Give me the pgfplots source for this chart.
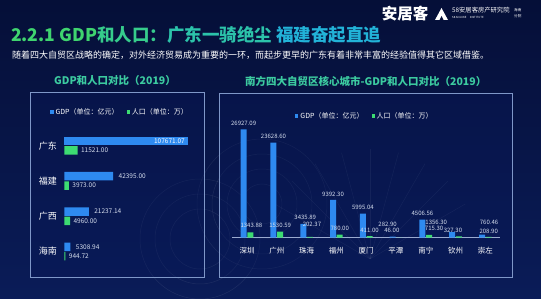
\documentclass[border=0pt]{standalone}
\usepackage{pgfplots}
\pgfplotsset{compat=1.18}
\usepackage{pgfplotstable}
\usepackage{fontspec}
\setmainfont{Noto Sans CJK SC}
\definecolor{gdpblue}{HTML}{2E8AF0}
\definecolor{popgreen}{HTML}{3DDC72}
\definecolor{bgtop}{HTML}{050F38}
\definecolor{bgmid}{HTML}{0B2269}
\definecolor{bgbot}{HTML}{0A1C58}
\definecolor{panelline}{HTML}{7F97C8}
\definecolor{panelfill}{HTML}{08185A}
\definecolor{labelcol}{HTML}{D6DEEE}
\definecolor{axisgray}{HTML}{9AAAD0}
\definecolor{ttlA}{HTML}{3FD46F}
\definecolor{ttlB}{HTML}{36CC8C}
\definecolor{ttlC}{HTML}{2CC3AA}
\definecolor{ttlD}{HTML}{22B3D8}
\definecolor{subttl}{HTML}{3CCBA0}

% left chart (provinces), y: 3=广东 ... 0=海南
\pgfplotstableread{
y gdp lab
3 107671.07 107671.07
}\lgdpA
\pgfplotstableread{
y gdp lab
2 42395.00 42395.00
1 21237.14 21237.14
0 5308.94 5308.94
}\lgdpB
\pgfplotstableread{
y pop lab
3 11521.00 11521.00
2 3973.00 3973.00
1 4960.00 4960.00
0 944.72 944.72
}\lpop
% right chart (cities); gdx/gdy, pdx/pdy: label nudges in pt
\pgfplotstableread{
x gdp glab gdx gdy pop plab pdx pdy
0 26927.09 26927.09 0 0 1343.88 1343.88 1 1
1 23628.60 23628.60 0 0 1530.59 1530.59 0 0
2 3435.89 3435.89 2 1 202.37 202.37 2 7
3 9392.30 9392.30 0 0 780.00 780.00 0 0
4 5995.04 5995.04 0 0 411.00 411.00 0 0
5 282.90 282.90 -5 6 46.00 46.00 -7.5 1
6 4506.56 4506.56 0 0 715.30 715.30 5 1
7 1356.30 1356.30 -16 4.5 327.30 327.30 -6 0
8 760.46 760.46 7 7 208.90 208.90 0 0
}\rdata

\begin{document}
\begin{tikzpicture}[x=1pt,y=1pt]
\useasboundingbox (0,0) rectangle (541,299);
\shade[top color=bgtop, middle color=bgmid, bottom color=bgbot] (0,0) rectangle (541,299);
% faint decorations
\begin{scope}[draw=white, draw opacity=0.08, line width=0.5pt]
\foreach \r in {20,35,50,65}{\draw (262,95) circle (\r);}
\foreach \r in {30,45,60}{\draw (200,60) circle (\r);}
\foreach \a in {30,45,...,150}{\draw (370,40) -- ++(\a:110);}
\end{scope}
% panels
\draw[panelline, line width=0.6pt, fill=panelfill, fill opacity=0.35] (30,21.7) rectangle (204,207);
\draw[panelline, line width=0.6pt, fill=panelfill, fill opacity=0.35] (219,21.7) rectangle (512.7,206);
% titles
\node[anchor=west, inner sep=0pt, font=\fontsize{17.5}{17.5}\selectfont\bfseries] at (11,264)
 {\textcolor{ttlA}{2.2.1 GDP}\textcolor{ttlB}{和人口：}\textcolor{ttlC}{广东一骑绝尘} \textcolor{ttlD}{福建奋起直追}};
\node[anchor=west, inner sep=0pt, text=white, font=\fontsize{9}{9}\selectfont] at (12,244)
 {随着四大自贸区战略的确定，对外经济贸易成为重要的一环，而起步更早的广东有着非常丰富的经验值得其它区域借鉴。};
\node[text=subttl, font=\fontsize{10.5}{10.5}\selectfont\bfseries, inner sep=0pt] at (115,218.3) {GDP和人口对比（2019）};
\node[text=subttl, font=\fontsize{10.5}{10.5}\selectfont\bfseries, inner sep=0pt] at (365.7,218) {南方四大自贸区核心城市-GDP和人口对比（2019）};
% logo
\node[text=white, font=\fontsize{15.5}{15.5}\selectfont\bfseries, inner sep=0pt] at (405,285) {安居客};
\fill[white] (435,279) -- (448,279) -- (441.5,291) -- cycle;
\fill[bgtop] (439.5,279) -- (443.5,279) -- (441.5,283) -- cycle;
\node[anchor=west, text=white, font=\fontsize{6.3}{6.3}\selectfont, inner sep=0pt] at (452,288.5) {58安居客房产研究院};
\node[anchor=west, text=white, font=\fontsize{2.8}{2.8}\selectfont, inner sep=0pt] at (452,281.5) {58 ANJUKE \ \ \ \ INSTITUTE};
\node[anchor=west, text=white, font=\fontsize{3.6}{3.6}\selectfont, inner sep=0pt] at (514,289) {海南};
\node[anchor=west, text=white, font=\fontsize{3.6}{3.6}\selectfont, inner sep=0pt] at (514,282.5) {分院};

% left chart
\begin{axis}[at={(64.3pt,29.8pt)}, anchor=south west, scale only axis,
  width=124pt, height=141.2pt,
  xbar, bar width=8.5pt,
  xmin=0, xmax=107671.07, ymin=-0.5, ymax=3.5, clip=false,
  axis line style={draw=none}, major tick style={draw=none},
  xtick=\empty, ytick={0,1,2,3}, yticklabels={海南,广西,福建,广东},
  yticklabel style={font=\fontsize{9}{9}\selectfont, text=white, xshift=0.5pt},
  point meta=explicit symbolic,
  legend columns=2,
  legend style={at={(0.45,1.113)}, anchor=center, draw=none, fill=none, text=white,
    font=\fontsize{7}{7}\selectfont, /tikz/every even column/.append style={column sep=6pt}},
  legend image code/.code={\fill[#1, draw=none] (0pt,-1.6pt) rectangle (3.2pt,1.6pt);},
]
\addplot[fill=gdpblue, draw=none, bar shift=4.7pt, nodes near coords,
  every node near coord/.append style={font=\fontsize{6.5}{6.5}\selectfont, text=labelcol, anchor=west, xshift=2pt}]
  table[x=gdp, y=y, meta=lab] {\lgdpB};
\addlegendentry{GDP（单位：亿元）}
\addplot[fill=gdpblue, draw=none, bar shift=4.7pt, forget plot, nodes near coords,
  every node near coord/.append style={font=\fontsize{6.5}{6.5}\selectfont, text=white, anchor=east}]
  table[x=gdp, y=y, meta=lab] {\lgdpA};
\addplot[fill=popgreen, draw=none, bar shift=-4.7pt, nodes near coords,
  every node near coord/.append style={font=\fontsize{6.5}{6.5}\selectfont, text=labelcol, anchor=west, xshift=0pt}]
  table[x=pop, y=y, meta=lab] {\lpop};
\addlegendentry{人口（单位：万）}
\end{axis}

% right chart
\begin{axis}[at={(232.1pt,61.3pt)}, anchor=south west, scale only axis,
  width=268.2pt, height=108.4pt,
  ybar, bar width=6pt,
  xmin=-0.5, xmax=8.5, ymin=0, ymax=26927.09, clip=false,
  axis x line*=bottom, axis y line=none,
  x axis line style={draw=axisgray, line width=0.6pt, -},
  major tick style={draw=none},
  xtick={0,...,8}, xticklabels={深圳,广州,珠海,福州,厦门,平潭,南宁,钦州,崇左},
  xticklabel style={font=\fontsize{7.5}{7.5}\selectfont, text=white, yshift=-2pt},
  ytick=\empty,
  point meta=explicit symbolic,
  legend columns=2,
  legend style={at={(0.4955,1.1227)}, anchor=center, draw=none, fill=none, text=white,
    font=\fontsize{7}{7}\selectfont, /tikz/every even column/.append style={column sep=6pt}},
  legend image code/.code={\fill[#1, draw=none] (0pt,-1.6pt) rectangle (3.2pt,1.6pt);},
]
\addplot[fill=gdpblue, draw=none, bar shift=-3.35pt, nodes near coords,
  visualization depends on={\thisrow{gdx} \as \ldx},
  visualization depends on={\thisrow{gdy} \as \ldy},
  every node near coord/.append style={font=\fontsize{6}{6}\selectfont, text=labelcol, xshift=\ldx pt, yshift=\ldy pt}]
  table[x=x, y=gdp, meta=glab] {\rdata};
\addlegendentry{GDP（单位：亿元）}
\addplot[fill=popgreen, draw=none, bar shift=3.35pt, nodes near coords,
  visualization depends on={\thisrow{pdx} \as \ldx},
  visualization depends on={\thisrow{pdy} \as \ldy},
  every node near coord/.append style={font=\fontsize{6}{6}\selectfont, text=labelcol, xshift=\ldx pt, yshift=\ldy pt}]
  table[x=x, y=pop, meta=plab] {\rdata};
\addlegendentry{人口（单位：万）}
\end{axis}
\end{tikzpicture}
\end{document}
